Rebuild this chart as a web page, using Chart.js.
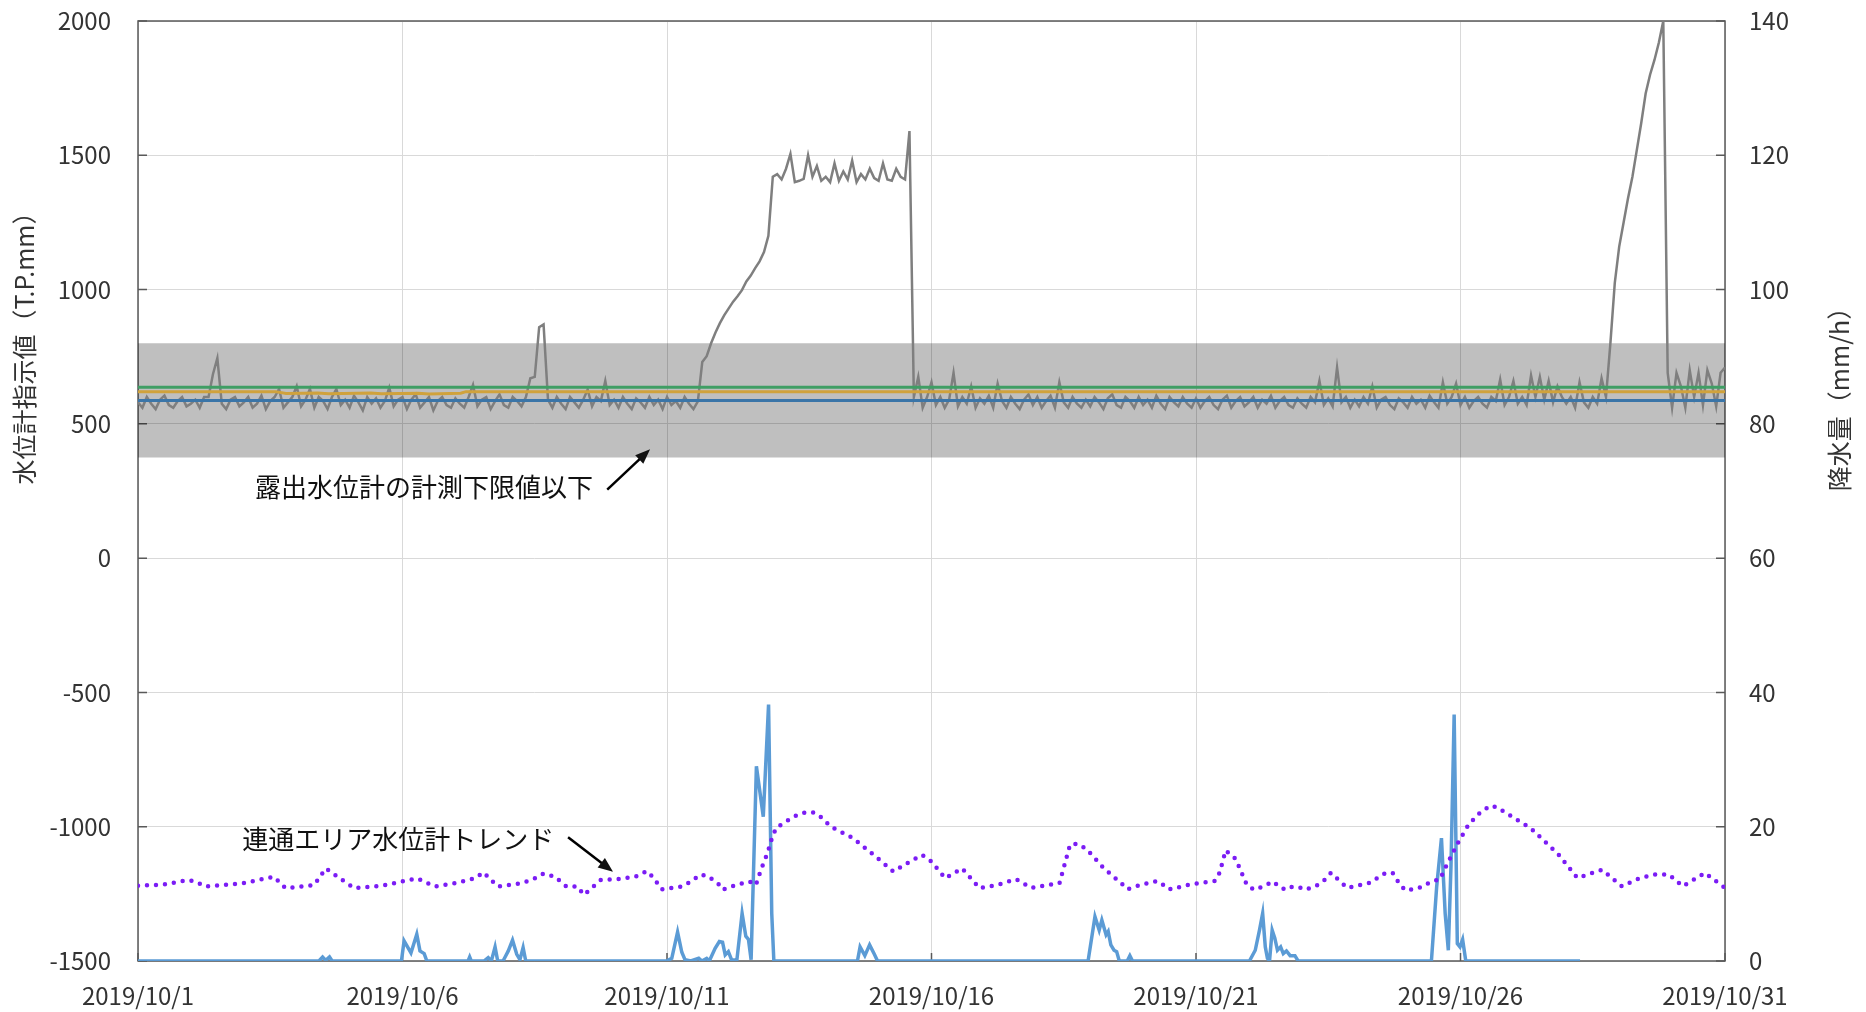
<!DOCTYPE html>
<html lang="ja">
<head>
<meta charset="utf-8">
<title>水位計指示値と降水量</title>
<script src="https://cdn.jsdelivr.net/npm/chart.js@4.4.1/dist/chart.umd.min.js"></script>
<style>
  html, body { margin: 0; padding: 0; background: #fff; }
  #wrap { width: 1866px; height: 1012px; }
</style>
</head>
<body>
<div id="wrap"><canvas id="chart"></canvas></div>
<script>
// x axis is days since 2019/10/1 00:00
const dateLabels = ['2019/10/1', '2019/10/6', '2019/10/11', '2019/10/16', '2019/10/21', '2019/10/26', '2019/10/31'];
const leftTicks = [-1500, -1000, -500, 0, 500, 1000, 1500, 2000];
const rightTicks = [0, 20, 40, 60, 80, 100, 120, 140];

// 露出水位計 readings, one value every 2 hours (12 per day)
const levelStepHours = 2;
const waterLevel = [
  // 10/1
  580, 560, 600, 575, 555, 590, 605, 570, 560, 585, 600, 565,
  // 10/2
  575, 590, 560, 600, 600, 685, 745, 575, 555, 590, 600, 565,
  // 10/3
  580, 600, 560, 575, 605, 555, 585, 600, 630, 560, 580, 600,
  // 10/4
  640, 565, 590, 630, 560, 600, 585, 555, 600, 630, 570, 590,
  // 10/5
  560, 605, 580, 550, 600, 575, 595, 560, 585, 635, 565, 590,
  // 10/6
  600, 555, 590, 610, 560, 580, 600, 550, 585, 600, 570, 560,
  // 10/7
  595, 575, 560, 600, 645, 565, 590, 600, 555, 585, 610, 570,
  // 10/8
  560, 600, 585, 565, 600, 670, 675, 860, 870, 590, 560, 600,
  // 10/9
  575, 555, 600, 580, 560, 590, 628, 565, 600, 585, 660, 570,
  // 10/10
  590, 560, 600, 575, 555, 595, 580, 560, 600, 570, 590, 555,
  // 10/11
  600, 570, 585, 560, 600, 575, 555, 584, 730, 752, 800, 840,
  // 10/12
  875, 905, 930, 955, 975, 998, 1030, 1052, 1080, 1105, 1140, 1200,
  // 10/13
  1420, 1430, 1410, 1450, 1505, 1400, 1405, 1412, 1500, 1420, 1460, 1405,
  // 10/14
  1420, 1400, 1470, 1405, 1440, 1410, 1480, 1400, 1430, 1410, 1450, 1415,
  // 10/15
  1405, 1470, 1410, 1405, 1450, 1420, 1410, 1590, 600, 675, 560, 600,
  // 10/16
  655, 570, 600, 560, 590, 690, 565, 600, 575, 640, 560, 595,
  // 10/17
  575, 605, 560, 650, 585, 560, 600, 575, 555, 590, 610, 570,
  // 10/18
  600, 560, 585, 605, 560, 655, 580, 560, 600, 575, 560, 590,
  // 10/19
  565, 600, 580, 555, 595, 610, 570, 560, 600, 585, 560, 600,
  // 10/20
  570, 590, 560, 605, 575, 555, 600, 580, 565, 600, 575, 560,
  // 10/21
  595, 560, 585, 600, 570, 555, 590, 605, 560, 585, 600, 565,
  // 10/22
  580, 600, 560, 590, 575, 605, 560, 585, 600, 570, 560, 595,
  // 10/23
  575, 560, 600, 580, 660, 570, 595, 565, 710, 580, 600, 560,
  // 10/24
  590, 565, 600, 575, 640, 560, 590, 600, 570, 555, 595, 580,
  // 10/25
  560, 600, 575, 590, 560, 605, 580, 560, 655, 575, 600, 650,
  // 10/26
  570, 600, 560, 585, 600, 575, 560, 600, 585, 665, 570, 600,
  // 10/27
  660, 575, 600, 570, 680, 600, 675, 590, 660, 580, 640, 600,
  // 10/28
  575, 600, 560, 655, 580, 560, 600, 575, 670, 600, 800, 1025,
  // 10/29
  1160, 1250, 1340, 1420, 1520, 1620, 1730, 1800, 1855, 1920, 2000, 690,
  // 10/30
  560, 690, 640, 560, 700, 600, 690, 570, 700, 650, 565, 690,
  // 10/31 0:00
  710
];

// other gauges sitting at their floor values
const greenLevel = 636;
const blueLevel = 587;
const orangeDays = [0, 2.6, 2.8, 3.4, 3.6, 4.4, 4.6, 5.3, 5.5, 6.1, 6.2, 30];
const orangeValues = [620, 620, 613, 615, 612, 615, 612, 614, 611, 614, 620, 620];

// shaded range: below the measurement limit of the exposed gauge
const bandRange = [375, 800];

// 連通エリア水位計トレンド
const trendDays = [0, 0.5, 0.95, 1.1, 1.27, 2.0, 2.57, 2.79, 3.33, 3.55, 3.8, 4.09, 4.6, 5.28, 5.61, 6.0,
  6.37, 6.53, 6.8, 7.2, 7.45, 7.67, 7.88, 8.1, 8.3, 8.43, 8.75, 9.1, 9.4, 9.62, 9.74, 9.9,
  10.15, 10.3, 10.5, 10.62, 10.75, 10.96, 11.05, 11.31, 11.56, 11.68, 11.78, 11.9, 11.97, 12.06,
  12.22, 12.44, 12.61, 12.75, 12.87, 13.1, 13.52, 13.95, 14.28, 14.55, 14.82, 15.0, 15.26, 15.58,
  15.91, 16.26, 16.6, 16.89, 17.11, 17.42, 17.62, 17.78, 17.94, 18.25, 18.6, 18.7, 18.96, 19.22,
  19.34, 19.43, 19.54, 19.79, 20.07, 20.36, 20.45, 20.56, 20.75, 20.96, 21.1, 21.24, 21.46, 21.57,
  21.69, 21.82, 21.94, 22.07, 22.31, 22.42, 22.55, 22.86, 23.28, 23.59, 23.72, 23.87, 23.98, 24.25,
  24.47, 24.61, 24.74, 24.94, 25.15, 25.34, 25.56, 25.68, 25.92, 26.17, 26.32, 26.85, 27.21, 27.45,
  27.68, 28.05, 28.35, 28.63, 28.94, 29.2, 29.62, 30];
const trendValues = [-1220, -1215, -1198, -1205, -1223, -1210, -1186, -1229, -1217, -1155, -1190, -1229, -1220, -1192, -1223, -1210,
  -1192, -1170, -1223, -1212, -1198, -1174, -1186, -1223, -1222, -1254, -1198, -1195, -1186, -1165, -1189, -1233,
  -1226, -1222, -1198, -1179, -1182, -1210, -1235, -1217, -1204, -1217, -1158, -1098, -1051, -1005,
  -984, -959, -947, -946, -957, -1000, -1043, -1112, -1167, -1135, -1105, -1130, -1192, -1155,
  -1229, -1216, -1195, -1228, -1220, -1210, -1066, -1064, -1085, -1153, -1213, -1233, -1216, -1204,
  -1208, -1229, -1233, -1219, -1210, -1202, -1170, -1088, -1120, -1216, -1235, -1225, -1204, -1223,
  -1235, -1223, -1225, -1235, -1216, -1200, -1172, -1228, -1209, -1171, -1173, -1220, -1238, -1225,
  -1202, -1196, -1142, -1064, -993, -953, -922, -927, -956, -987, -1004, -1103, -1191, -1175,
  -1160, -1222, -1195, -1178, -1178, -1222, -1172, -1228];

// 降水量 (mm/h)
const rainDays = [0, 3.42, 3.49, 3.55, 3.62, 3.67, 4.98, 5.03, 5.16, 5.27, 5.33, 5.41, 5.46,
  6.24, 6.27, 6.3, 6.54, 6.62, 6.68, 6.75, 6.8, 6.9, 6.94, 7.0, 7.08, 7.16, 7.22, 7.28, 7.33,
  9.99, 10.09, 10.2, 10.28, 10.34, 10.45, 10.6, 10.66, 10.75, 10.8, 10.91, 10.99, 11.05, 11.1,
  11.16, 11.22, 11.32, 11.42, 11.49, 11.54, 11.59, 11.69, 11.82, 11.92, 11.98, 12.02,
  13.6, 13.65, 13.74, 13.83, 13.92, 13.98,
  17.96, 18.09, 18.17, 18.22, 18.3, 18.34, 18.39, 18.45, 18.5, 18.55, 18.7, 18.75, 18.8,
  21.01, 21.12, 21.2, 21.26, 21.31, 21.35, 21.39, 21.44, 21.49, 21.54, 21.6, 21.65, 21.71, 21.78, 21.87, 21.93,
  24.45, 24.55, 24.64, 24.71, 24.77, 24.82, 24.88, 24.94, 24.99, 25.04, 25.1, 27.26];
const rainValues = [0, 0, 0.6, 0.1, 0.6, 0, 0, 3.0, 1.2, 4.0, 1.5, 1.1, 0,
  0, 0.6, 0, 0, 0.5, 0, 2.1, 0, 0, 0.6, 1.5, 3.1, 1.0, 0.2, 2.0, 0,
  0, 0.4, 4.3, 1.3, 0.2, 0, 0.4, 0, 0.4, 0, 1.9, 2.9, 2.8, 0.9,
  1.4, 0.2, 0.1, 7.1, 3.7, 3.2, 0.2, 29.0, 21.5, 38.2, 7.1, 0,
  0, 2.1, 0.8, 2.4, 1.0, 0,
  0, 6.6, 4.6, 6.1, 3.9, 4.4, 2.4, 1.6, 1.4, 0, 0, 0.8, 0,
  0, 1.6, 4.6, 7.1, 2.1, 0.4, 0, 4.6, 3.4, 1.6, 2.1, 1.1, 1.5, 0.8, 0.8, 0,
  0, 11.1, 18.3, 7.1, 1.6, 14.1, 36.7, 2.6, 2.1, 3.2, 0, 0];

const pairs = (xs, ys) => xs.map((x, i) => ({ x: x, y: ys[i] }));
const levelPoints = waterLevel.map((v, i) => ({ x: i * levelStepHours / 24, y: v }));
const flat = v => [{ x: 0, y: v }, { x: 30, y: v }];

const FONT = '"Noto Sans CJK JP", "Noto Sans", sans-serif';
const TEXT = '#333333';

function arrow(ctx, x1, y1, x2, y2) {
    const ang = Math.atan2(y2 - y1, x2 - x1);
    const head = 16;
    ctx.beginPath();
    ctx.moveTo(x1, y1);
    ctx.lineTo(x2 - Math.cos(ang) * head * 0.8, y2 - Math.sin(ang) * head * 0.8);
    ctx.stroke();
    ctx.beginPath();
    ctx.moveTo(x2, y2);
    ctx.lineTo(x2 - head * Math.cos(ang - 0.38), y2 - head * Math.sin(ang - 0.38));
    ctx.lineTo(x2 - head * Math.cos(ang + 0.38), y2 - head * Math.sin(ang + 0.38));
    ctx.closePath();
    ctx.fill();
}

// the y axes add tick padding above/below the plot; drop that so the plot can reach the top
function fitVertical(width) {
    return s => {
        s.width = width;
        s.paddingTop = 0;
        s.paddingBottom = 0;
    };
}

const decor = {
    id: 'decor',
    beforeDatasetsDraw(chart) {
        const { ctx, chartArea: a, scales } = chart;
        ctx.save();
        ctx.strokeStyle = '#595959';
        ctx.lineWidth = 1.5;
        ctx.strokeRect(a.left, a.top, a.right - a.left, a.bottom - a.top);
        ctx.beginPath();
        scales.y.ticks.forEach(t => {
            const y = scales.y.getPixelForValue(t.value);
            ctx.moveTo(a.left, y); ctx.lineTo(a.left + 9, y);
        });
        scales.y1.ticks.forEach(t => {
            const y = scales.y1.getPixelForValue(t.value);
            ctx.moveTo(a.right, y); ctx.lineTo(a.right - 9, y);
        });
        scales.x.ticks.forEach(t => {
            const x = scales.x.getPixelForValue(t.value);
            ctx.moveTo(x, a.bottom); ctx.lineTo(x, a.bottom - 8);
        });
        ctx.stroke();
        ctx.restore();
    },
    afterDraw(chart) {
        const { ctx, scales } = chart;
        const px = d => scales.x.getPixelForValue(d);
        const py = v => scales.y.getPixelForValue(v);
        ctx.save();
        ctx.fillStyle = TEXT;
        ctx.font = '25px ' + FONT;
        ctx.textAlign = 'center';
        ctx.textBaseline = 'middle';
        // axis titles
        ctx.save();
        ctx.translate(24, 342);
        ctx.rotate(-Math.PI / 2);
        ctx.fillText('水位計指示値（T.P.mm）', 0, 0);
        ctx.restore();
        ctx.save();
        ctx.translate(1839, 393);
        ctx.rotate(-Math.PI / 2);
        ctx.fillText('降水量（mm/h）', 0, 0);
        ctx.restore();

        // annotations
        ctx.font = '26px ' + FONT;
        ctx.textAlign = 'left';
        ctx.fillStyle = '#111';
        ctx.fillText('露出水位計の計測下限値以下', px(2.21), py(263));
        ctx.fillText('連通エリア水位計トレンド', px(1.97), py(-1045));
        ctx.strokeStyle = '#000';
        ctx.lineWidth = 2.5;
        arrow(ctx, px(8.87), py(255), px(9.68), py(405));
        arrow(ctx, px(8.13), py(-1039), px(8.98), py(-1168));
        ctx.restore();
    }
};

new Chart(document.getElementById('chart'), {
    type: 'line',
    data: {
        datasets: [
            {
                label: '連通エリア水位計トレンド',
                data: pairs(trendDays, trendValues),
                borderColor: '#7B1CF5',
                borderWidth: 4.5,
                borderDash: [0, 9],
                borderCapStyle: 'round',
                yAxisID: 'y'
            },
            {
                label: '降水量',
                data: pairs(rainDays, rainValues),
                borderColor: '#5B9BD5',
                borderWidth: 3.5,
                yAxisID: 'y1'
            },
            {
                label: 'green',
                data: flat(greenLevel),
                borderColor: '#3F9E64',
                borderWidth: 3,
                yAxisID: 'y'
            },
            {
                label: 'orange',
                data: pairs(orangeDays, orangeValues),
                borderColor: '#D0A23C',
                borderWidth: 3,
                yAxisID: 'y'
            },
            {
                label: 'blue',
                data: flat(blueLevel),
                borderColor: '#3A75A8',
                borderWidth: 3,
                yAxisID: 'y'
            },
            {
                label: '露出水位計',
                data: levelPoints,
                borderColor: '#7F7F7F',
                borderWidth: 2.5,
                yAxisID: 'y'
            },
            {
                label: 'bandHigh',
                data: flat(bandRange[1]),
                borderWidth: 0,
                borderColor: 'rgba(0,0,0,0)',
                backgroundColor: 'rgba(0,0,0,0.25)',
                fill: '+1',
                yAxisID: 'y'
            },
            {
                label: 'bandLow',
                data: flat(bandRange[0]),
                borderWidth: 0,
                borderColor: 'rgba(0,0,0,0)',
                yAxisID: 'y'
            }
        ]
    },
    options: {
        responsive: true,
        maintainAspectRatio: false,
        animation: false,
        layout: { padding: { top: 21, left: 0, right: 0, bottom: 0 } },
        elements: {
            point: { radius: 0 },
            line: { tension: 0, fill: false }
        },
        plugins: {
            legend: { display: false },
            tooltip: { enabled: false }
        },
        scales: {
            x: {
                type: 'linear',
                min: 0,
                max: 30,
                afterFit: s => { s.height = 51; },
                afterBuildTicks: s => { s.ticks = dateLabels.map((_, i) => ({ value: i * 5 })); },
                ticks: {
                    autoSkip: false,
                    maxRotation: 0,
                    padding: 20,
                    color: TEXT,
                    font: { family: FONT, size: 24 },
                    callback: (v) => dateLabels[Math.round(v / 5)]
                },
                grid: { color: '#D9D9D9', lineWidth: 1, drawTicks: false },
                border: { display: false }
            },
            y: {
                position: 'left',
                min: leftTicks[0],
                max: leftTicks[leftTicks.length - 1],
                afterFit: fitVertical(138),
                afterBuildTicks: s => { s.ticks = leftTicks.map(v => ({ value: v })); },
                ticks: {
                    padding: 27,
                    color: TEXT,
                    font: { family: FONT, size: 24 },
                    callback: v => String(v)
                },
                grid: { color: '#D9D9D9', lineWidth: 1, drawTicks: false },
                border: { display: false }
            },
            y1: {
                position: 'right',
                min: rightTicks[0],
                max: rightTicks[rightTicks.length - 1],
                afterFit: fitVertical(141),
                afterBuildTicks: s => { s.ticks = rightTicks.map(v => ({ value: v })); },
                ticks: {
                    padding: 24,
                    color: TEXT,
                    font: { family: FONT, size: 24 },
                    callback: v => String(v)
                },
                grid: { drawOnChartArea: false, drawTicks: false },
                border: { display: false }
            }
        }
    },
    plugins: [decor]
});
</script>
</body>
</html>
